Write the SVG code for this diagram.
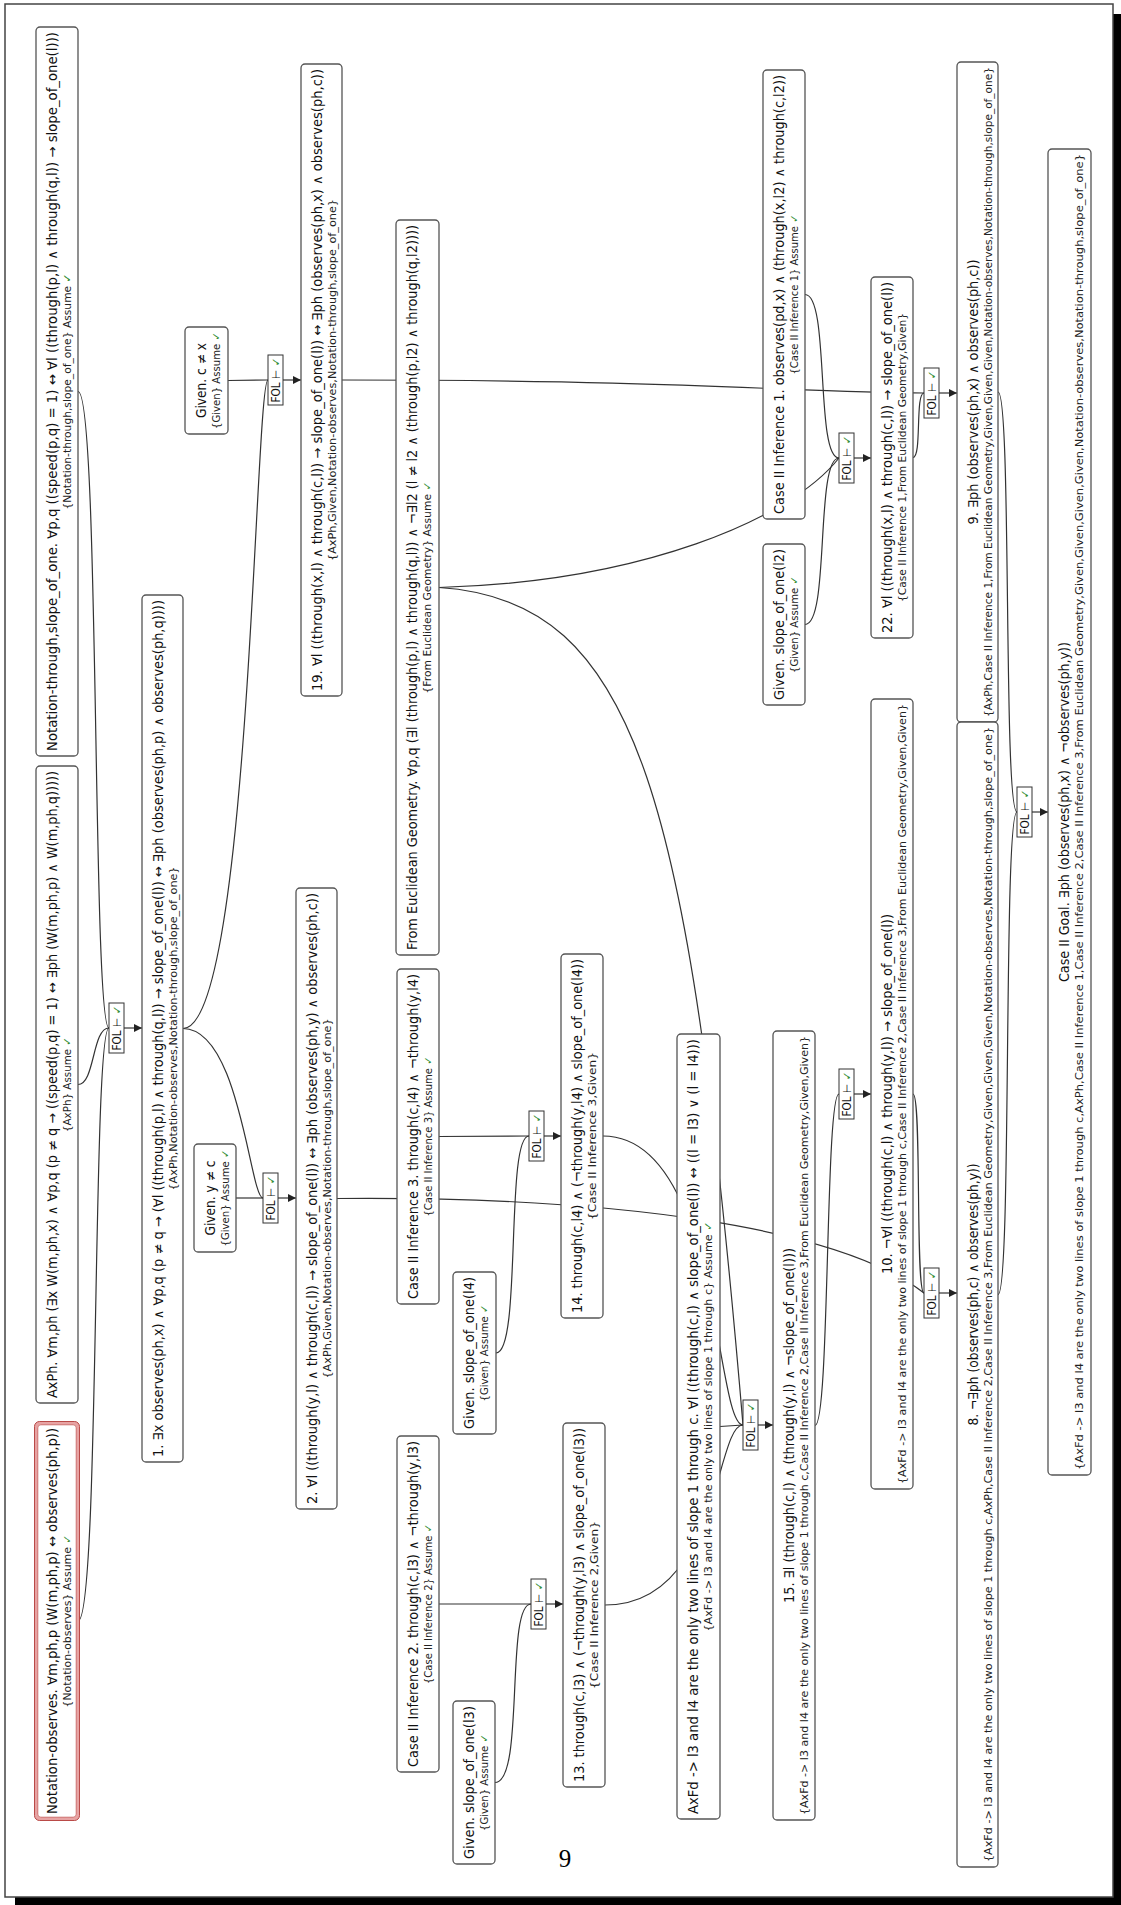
<svg xmlns="http://www.w3.org/2000/svg" width="1121" height="1905" viewBox="0 0 1121 1905">
<defs>
<style>
.box{fill:#fff;stroke:#555;stroke-width:1.3}
.fol{fill:#fff;stroke:#333;stroke-width:1}
.e{fill:none;stroke:#333;stroke-width:1.2}
.t{font-family:"DejaVu Sans",sans-serif;font-size:13.2px;fill:#111;text-anchor:middle}
.s{font-family:"DejaVu Sans",sans-serif;font-size:11px;fill:#222;text-anchor:middle}
.f{font-family:"DejaVu Sans",sans-serif;font-size:11.5px;fill:#111;text-anchor:middle}
.ck{fill:#2e8b2e;font-weight:bold}
</style>
<marker id="arr" viewBox="0 0 10 10" refX="10" refY="5" markerWidth="9" markerHeight="8" orient="auto" markerUnits="userSpaceOnUse"><path d="M0,0 L10,5 L0,10 z" fill="#222"/></marker>
</defs>
<rect x="0" y="0" width="1121" height="1905" fill="#fff"/>
<rect x="15" y="14" width="1106" height="1891" fill="#000"/>
<rect x="5" y="4" width="1108" height="1893" fill="#fff" stroke="#444" stroke-width="1.5"/>

<g id="connectors">
<path class="e" d="M78,391.5 C100,391.5 92,1028 109,1028"/>
<path class="e" d="M78,1084.5 C95,1084.5 92,1028 109,1028"/>
<path class="e" d="M78,1621 C100,1621 92,1028 109,1028"/>
<path class="e" d="M124,1028 L142,1028" marker-end="url(#arr)"/>

<path class="e" d="M228,380.5 L268,380"/>
<path class="e" d="M183,1028.5 C250,1028.5 255,380 268,380"/>
<path class="e" d="M283,380 L301,380" marker-end="url(#arr)"/>

<path class="e" d="M236,1198 L263,1198"/>
<path class="e" d="M183,1028.5 C240,1028.5 250,1198 263,1198"/>
<path class="e" d="M278,1198 L296,1198" marker-end="url(#arr)"/>

<path class="e" d="M439,1604 L531,1604"/>
<path class="e" d="M495,1782.5 C525,1782.5 505,1604 531,1604"/>
<path class="e" d="M546,1604 L563,1604" marker-end="url(#arr)"/>

<path class="e" d="M439,1136.5 L529,1136"/>
<path class="e" d="M496,1353 C522,1353 505,1136 529,1136"/>
<path class="e" d="M544,1136 L561,1136" marker-end="url(#arr)"/>

<path class="e" d="M805,294.5 C830,294.5 815,458 839,458"/>
<path class="e" d="M805,624.5 C830,624.5 815,458 839,458"/>
<path class="e" d="M439,587.5 C640,582 790,520 839,458"/>
<path class="e" d="M854,458 L871,458" marker-end="url(#arr)"/>

<path class="e" d="M342,380 C700,380 800,393 924,393"/>
<path class="e" d="M913,457.5 C922,457.5 915,393 924,393"/>
<path class="e" d="M939,393 L957,393" marker-end="url(#arr)"/>

<path class="e" d="M439,587.5 C640,600 690,800 743,1425"/>
<path class="e" d="M605,1605 C720,1605 715,1425 743,1425"/>
<path class="e" d="M603,1136 C720,1136 715,1425 743,1425"/>
<path class="e" d="M720,1426.5 L743,1425"/>
<path class="e" d="M758,1425 L773,1425" marker-end="url(#arr)"/>

<path class="e" d="M815,1425.5 C830,1425.5 825,1094 839,1094"/>
<path class="e" d="M854,1094 L871,1094" marker-end="url(#arr)"/>

<path class="e" d="M913,1094 C922,1094 915,1293 924,1293"/>
<path class="e" d="M337,1198.5 C620,1196 840,1228 924,1293"/>
<path class="e" d="M939,1293 L957,1293" marker-end="url(#arr)"/>

<path class="e" d="M998,392 C1012,392 1003,812 1017,812"/>
<path class="e" d="M998,1294.5 C1012,1294.5 1003,812 1017,812"/>
<path class="e" d="M1032,812 L1048,812" marker-end="url(#arr)"/>
</g>

<g id="fol-1"><rect class="fol" x="109" y="1003" width="15" height="50"/><text class="f" transform="translate(121,1028) rotate(-90)" textLength="45" lengthAdjust="spacingAndGlyphs">FOL ⊢ <tspan class="ck">✓</tspan></text></g>
<g id="fol-19"><rect class="fol" x="268" y="355" width="15" height="50"/><text class="f" transform="translate(280,380) rotate(-90)" textLength="45" lengthAdjust="spacingAndGlyphs">FOL ⊢ <tspan class="ck">✓</tspan></text></g>
<g id="fol-2"><rect class="fol" x="263" y="1173" width="15" height="50"/><text class="f" transform="translate(275,1198) rotate(-90)" textLength="45" lengthAdjust="spacingAndGlyphs">FOL ⊢ <tspan class="ck">✓</tspan></text></g>
<g id="fol-13"><rect class="fol" x="531" y="1579" width="15" height="50"/><text class="f" transform="translate(543,1604) rotate(-90)" textLength="45" lengthAdjust="spacingAndGlyphs">FOL ⊢ <tspan class="ck">✓</tspan></text></g>
<g id="fol-14"><rect class="fol" x="529" y="1111" width="15" height="50"/><text class="f" transform="translate(541,1136) rotate(-90)" textLength="45" lengthAdjust="spacingAndGlyphs">FOL ⊢ <tspan class="ck">✓</tspan></text></g>
<g id="fol-22"><rect class="fol" x="839" y="433" width="15" height="50"/><text class="f" transform="translate(851,458) rotate(-90)" textLength="45" lengthAdjust="spacingAndGlyphs">FOL ⊢ <tspan class="ck">✓</tspan></text></g>
<g id="fol-9"><rect class="fol" x="924" y="368" width="15" height="50"/><text class="f" transform="translate(936,393) rotate(-90)" textLength="45" lengthAdjust="spacingAndGlyphs">FOL ⊢ <tspan class="ck">✓</tspan></text></g>
<g id="fol-15"><rect class="fol" x="743" y="1400" width="15" height="50"/><text class="f" transform="translate(755,1425) rotate(-90)" textLength="45" lengthAdjust="spacingAndGlyphs">FOL ⊢ <tspan class="ck">✓</tspan></text></g>
<g id="fol-10"><rect class="fol" x="839" y="1069" width="15" height="50"/><text class="f" transform="translate(851,1094) rotate(-90)" textLength="45" lengthAdjust="spacingAndGlyphs">FOL ⊢ <tspan class="ck">✓</tspan></text></g>
<g id="fol-8"><rect class="fol" x="924" y="1268" width="15" height="50"/><text class="f" transform="translate(936,1293) rotate(-90)" textLength="45" lengthAdjust="spacingAndGlyphs">FOL ⊢ <tspan class="ck">✓</tspan></text></g>
<g id="fol-goal"><rect class="fol" x="1017" y="787" width="15" height="50"/><text class="f" transform="translate(1029,812) rotate(-90)" textLength="45" lengthAdjust="spacingAndGlyphs">FOL ⊢ <tspan class="ck">✓</tspan></text></g>

<g id="n-notation-observes">
<rect x="36" y="1423" width="42" height="396" rx="4" fill="#fff" stroke="#e7a3a3" stroke-width="3.5"/>
<rect x="34.5" y="1421.5" width="45" height="399" rx="5" fill="none" stroke="#b94a48" stroke-width="1"/>
<rect x="37.8" y="1424.8" width="38.4" height="392.4" rx="3" fill="none" stroke="#c45a58" stroke-width="0.8"/>
<text class="t" transform="translate(57,1621) rotate(-90)" textLength="386" lengthAdjust="spacingAndGlyphs">Notation-observes. ∀m,ph,p (W(m,ph,p) ↔ observes(ph,p))</text>
<text class="s" transform="translate(71,1621) rotate(-90)" textLength="173" lengthAdjust="spacingAndGlyphs">{Notation-observes} Assume <tspan class="ck">✓</tspan></text>
</g>

<g id="n-axph">
<rect class="box" x="36" y="766" width="42" height="637" rx="4"/>
<text class="t" transform="translate(57,1084.5) rotate(-90)" textLength="627" lengthAdjust="spacingAndGlyphs">AxPh. ∀m,ph (∃x W(m,ph,x) ∧ ∀p,q (p ≠ q → ((speed(p,q) = 1) ↔ ∃ph (W(m,ph,p) ∧ W(m,ph,q)))))</text>
<text class="s" transform="translate(71,1084.5) rotate(-90)" textLength="95" lengthAdjust="spacingAndGlyphs">{AxPh} Assume <tspan class="ck">✓</tspan></text>
</g>

<g id="n-notation-through">
<rect class="box" x="36" y="27" width="42" height="729" rx="4"/>
<text class="t" transform="translate(57,391.5) rotate(-90)" textLength="719" lengthAdjust="spacingAndGlyphs">Notation-through,slope_of_one. ∀p,q ((speed(p,q) = 1) ↔ ∀l ((through(p,l) ∧ through(q,l)) → slope_of_one(l)))</text>
<text class="s" transform="translate(71,391.5) rotate(-90)" textLength="236" lengthAdjust="spacingAndGlyphs">{Notation-through,slope_of_one} Assume <tspan class="ck">✓</tspan></text>
</g>

<g id="n-1">
<rect class="box" x="142" y="595" width="41" height="867" rx="4"/>
<text class="t" transform="translate(163,1028.5) rotate(-90)" textLength="857" lengthAdjust="spacingAndGlyphs">1. ∃x observes(ph,x) ∧ ∀p,q (p ≠ q → (∀l ((through(p,l) ∧ through(q,l)) → slope_of_one(l)) ↔ ∃ph (observes(ph,p) ∧ observes(ph,q))))</text>
<text class="s" transform="translate(177,1028.5) rotate(-90)" textLength="324" lengthAdjust="spacingAndGlyphs">{AxPh,Notation-observes,Notation-through,slope_of_one}</text>
</g>

<g id="n-given-cx">
<rect class="box" x="185" y="327" width="43" height="107" rx="4"/>
<text class="t" transform="translate(206,380.5) rotate(-90)" textLength="75" lengthAdjust="spacingAndGlyphs">Given. c ≠ x</text>
<text class="s" transform="translate(220,380.5) rotate(-90)" textLength="97" lengthAdjust="spacingAndGlyphs">{Given} Assume <tspan class="ck">✓</tspan></text>
</g>

<g id="n-given-yc">
<rect class="box" x="194" y="1144" width="42" height="108" rx="4"/>
<text class="t" transform="translate(215,1198) rotate(-90)" textLength="75" lengthAdjust="spacingAndGlyphs">Given. y ≠ c</text>
<text class="s" transform="translate(229,1198) rotate(-90)" textLength="97" lengthAdjust="spacingAndGlyphs">{Given} Assume <tspan class="ck">✓</tspan></text>
</g>

<g id="n-2">
<rect class="box" x="296" y="888" width="41" height="621" rx="4"/>
<text class="t" transform="translate(317,1198.5) rotate(-90)" textLength="611" lengthAdjust="spacingAndGlyphs">2. ∀l ((through(y,l) ∧ through(c,l)) → slope_of_one(l)) ↔ ∃ph (observes(ph,y) ∧ observes(ph,c))</text>
<text class="s" transform="translate(331,1198.5) rotate(-90)" textLength="360" lengthAdjust="spacingAndGlyphs">{AxPh,Given,Notation-observes,Notation-through,slope_of_one}</text>
</g>

<g id="n-19">
<rect class="box" x="301" y="64" width="41" height="632" rx="4"/>
<text class="t" transform="translate(322,380) rotate(-90)" textLength="622" lengthAdjust="spacingAndGlyphs">19. ∀l ((through(x,l) ∧ through(c,l)) → slope_of_one(l)) ↔ ∃ph (observes(ph,x) ∧ observes(ph,c))</text>
<text class="s" transform="translate(336,380) rotate(-90)" textLength="362" lengthAdjust="spacingAndGlyphs">{AxPh,Given,Notation-observes,Notation-through,slope_of_one}</text>
</g>

<g id="n-euclid">
<rect class="box" x="396" y="220" width="43" height="735" rx="4"/>
<text class="t" transform="translate(417,587.5) rotate(-90)" textLength="725" lengthAdjust="spacingAndGlyphs">From Euclidean Geometry. ∀p,q (∃l (through(p,l) ∧ through(q,l)) ∧ ¬∃l2 (l ≠ l2 ∧ (through(p,l2) ∧ through(q,l2))))</text>
<text class="s" transform="translate(431,587.5) rotate(-90)" textLength="212" lengthAdjust="spacingAndGlyphs">{From Euclidean Geometry} Assume <tspan class="ck">✓</tspan></text>
</g>

<g id="n-case2-inf2">
<rect class="box" x="397" y="1436" width="42" height="336" rx="4"/>
<text class="t" transform="translate(418,1604) rotate(-90)" textLength="326" lengthAdjust="spacingAndGlyphs">Case II Inference 2. through(c,l3) ∧ ¬through(y,l3)</text>
<text class="s" transform="translate(432,1604) rotate(-90)" textLength="160" lengthAdjust="spacingAndGlyphs">{Case II Inference 2} Assume <tspan class="ck">✓</tspan></text>
</g>

<g id="n-given-l3">
<rect class="box" x="453" y="1701" width="42" height="163" rx="4"/>
<text class="t" transform="translate(474,1782.5) rotate(-90)" textLength="153" lengthAdjust="spacingAndGlyphs">Given. slope_of_one(l3)</text>
<text class="s" transform="translate(488,1782.5) rotate(-90)" textLength="97" lengthAdjust="spacingAndGlyphs">{Given} Assume <tspan class="ck">✓</tspan></text>
</g>

<g id="n-case2-inf3">
<rect class="box" x="397" y="969" width="42" height="335" rx="4"/>
<text class="t" transform="translate(418,1136.5) rotate(-90)" textLength="325" lengthAdjust="spacingAndGlyphs">Case II Inference 3. through(c,l4) ∧ ¬through(y,l4)</text>
<text class="s" transform="translate(432,1136.5) rotate(-90)" textLength="160" lengthAdjust="spacingAndGlyphs">{Case II Inference 3} Assume <tspan class="ck">✓</tspan></text>
</g>

<g id="n-given-l4">
<rect class="box" x="453" y="1272" width="43" height="162" rx="4"/>
<text class="t" transform="translate(474,1353) rotate(-90)" textLength="152" lengthAdjust="spacingAndGlyphs">Given. slope_of_one(l4)</text>
<text class="s" transform="translate(488,1353) rotate(-90)" textLength="97" lengthAdjust="spacingAndGlyphs">{Given} Assume <tspan class="ck">✓</tspan></text>
</g>

<g id="n-13">
<rect class="box" x="563" y="1423" width="42" height="364" rx="4"/>
<text class="t" transform="translate(584,1605) rotate(-90)" textLength="354" lengthAdjust="spacingAndGlyphs">13. through(c,l3) ∧ (¬through(y,l3) ∧ slope_of_one(l3))</text>
<text class="s" transform="translate(598,1605) rotate(-90)" textLength="168" lengthAdjust="spacingAndGlyphs">{Case II Inference 2,Given}</text>
</g>

<g id="n-14">
<rect class="box" x="561" y="954" width="42" height="364" rx="4"/>
<text class="t" transform="translate(582,1136) rotate(-90)" textLength="354" lengthAdjust="spacingAndGlyphs">14. through(c,l4) ∧ (¬through(y,l4) ∧ slope_of_one(l4))</text>
<text class="s" transform="translate(596,1136) rotate(-90)" textLength="168" lengthAdjust="spacingAndGlyphs">{Case II Inference 3,Given}</text>
</g>

<g id="n-axfd">
<rect class="box" x="677" y="1034" width="43" height="785" rx="4"/>
<text class="t" transform="translate(698,1426.5) rotate(-90)" textLength="775" lengthAdjust="spacingAndGlyphs">AxFd -&gt; l3 and l4 are the only two lines of slope 1 through c. ∀l ((through(c,l) ∧ slope_of_one(l)) ↔ ((l = l3) ∨ (l = l4)))</text>
<text class="s" transform="translate(712,1426.5) rotate(-90)" textLength="410" lengthAdjust="spacingAndGlyphs">{AxFd -&gt; l3 and l4 are the only two lines of slope 1 through c} Assume <tspan class="ck">✓</tspan></text>
</g>

<g id="n-case2-inf1">
<rect class="box" x="763" y="70" width="42" height="449" rx="4"/>
<text class="t" transform="translate(784,294.5) rotate(-90)" textLength="439" lengthAdjust="spacingAndGlyphs">Case II Inference 1. observes(pd,x) ∧ (through(x,l2) ∧ through(c,l2))</text>
<text class="s" transform="translate(798,294.5) rotate(-90)" textLength="160" lengthAdjust="spacingAndGlyphs">{Case II Inference 1} Assume <tspan class="ck">✓</tspan></text>
</g>

<g id="n-given-l2">
<rect class="box" x="763" y="544" width="42" height="161" rx="4"/>
<text class="t" transform="translate(784,624.5) rotate(-90)" textLength="151" lengthAdjust="spacingAndGlyphs">Given. slope_of_one(l2)</text>
<text class="s" transform="translate(798,624.5) rotate(-90)" textLength="97" lengthAdjust="spacingAndGlyphs">{Given} Assume <tspan class="ck">✓</tspan></text>
</g>

<g id="n-22">
<rect class="box" x="871" y="277" width="42" height="361" rx="4"/>
<text class="t" transform="translate(892,457.5) rotate(-90)" textLength="351" lengthAdjust="spacingAndGlyphs">22. ∀l ((through(x,l) ∧ through(c,l)) → slope_of_one(l))</text>
<text class="s" transform="translate(906,457.5) rotate(-90)" textLength="289" lengthAdjust="spacingAndGlyphs">{Case II Inference 1,From Euclidean Geometry,Given}</text>
</g>

<g id="n-15">
<rect class="box" x="773" y="1031" width="42" height="789" rx="4"/>
<text class="t" transform="translate(794,1425.5) rotate(-90)" textLength="355" lengthAdjust="spacingAndGlyphs">15. ∃l (through(c,l) ∧ (through(y,l) ∧ ¬slope_of_one(l)))</text>
<text class="s" transform="translate(808,1425.5) rotate(-90)" textLength="779" lengthAdjust="spacingAndGlyphs">{AxFd -&gt; l3 and l4 are the only two lines of slope 1 through c,Case II Inference 2,Case II Inference 3,From Euclidean Geometry,Given,Given}</text>
</g>

<g id="n-10">
<rect class="box" x="871" y="699" width="42" height="790" rx="4"/>
<text class="t" transform="translate(892,1094) rotate(-90)" textLength="360" lengthAdjust="spacingAndGlyphs">10. ¬∀l ((through(c,l) ∧ through(y,l)) → slope_of_one(l))</text>
<text class="s" transform="translate(906,1094) rotate(-90)" textLength="780" lengthAdjust="spacingAndGlyphs">{AxFd -&gt; l3 and l4 are the only two lines of slope 1 through c,Case II Inference 2,Case II Inference 3,From Euclidean Geometry,Given,Given}</text>
</g>

<g id="n-9">
<rect class="box" x="957" y="62" width="41" height="660" rx="4"/>
<text class="t" transform="translate(978,392) rotate(-90)" textLength="265" lengthAdjust="spacingAndGlyphs">9. ∃ph (observes(ph,x) ∧ observes(ph,c))</text>
<text class="s" transform="translate(992,392) rotate(-90)" textLength="650" lengthAdjust="spacingAndGlyphs">{AxPh,Case II Inference 1,From Euclidean Geometry,Given,Given,Given,Notation-observes,Notation-through,slope_of_one}</text>
</g>

<g id="n-8">
<rect class="box" x="957" y="722" width="41" height="1145" rx="4"/>
<text class="t" transform="translate(978,1294.5) rotate(-90)" textLength="262" lengthAdjust="spacingAndGlyphs">8. ¬∃ph (observes(ph,c) ∧ observes(ph,y))</text>
<text class="s" transform="translate(992,1294.5) rotate(-90)" textLength="1135" lengthAdjust="spacingAndGlyphs">{AxFd -&gt; l3 and l4 are the only two lines of slope 1 through c,AxPh,Case II Inference 2,Case II Inference 3,From Euclidean Geometry,Given,Given,Given,Notation-observes,Notation-through,slope_of_one}</text>
</g>

<g id="n-goal">
<rect class="box" x="1048" y="149" width="43" height="1326" rx="4"/>
<text class="t" transform="translate(1069,812) rotate(-90)" textLength="340" lengthAdjust="spacingAndGlyphs">Case II Goal. ∃ph (observes(ph,x) ∧ ¬observes(ph,y))</text>
<text class="s" transform="translate(1083,812) rotate(-90)" textLength="1316" lengthAdjust="spacingAndGlyphs">{AxFd -&gt; l3 and l4 are the only two lines of slope 1 through c,AxPh,Case II Inference 1,Case II Inference 2,Case II Inference 3,From Euclidean Geometry,Given,Given,Given,Given,Notation-observes,Notation-through,slope_of_one}</text>
</g>

<text x="565" y="1867" font-family="'Liberation Serif',serif" font-size="25" text-anchor="middle" fill="#000">9</text>
</svg>
